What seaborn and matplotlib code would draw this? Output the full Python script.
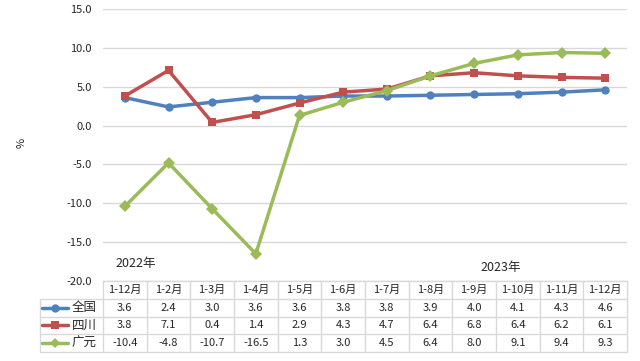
import numpy as np
import pandas as pd
import matplotlib
matplotlib.use("Agg")
import matplotlib.pyplot as plt
import seaborn as sns

# -------------------------------
# Data
# -------------------------------
periods = ["1-12月", "1-2月", "1-3月", "1-4月", "1-5月", "1-6月",
           "1-7月", "1-8月", "1-9月", "1-10月", "1-11月", "1-12月"]
series_names = ["全国", "四川", "广元"]
quanguo = [3.6, 2.4, 3.0, 3.6, 3.6, 3.8, 3.8, 3.9, 4.0, 4.1, 4.3, 4.6]
sichuan = [3.8, 7.1, 0.4, 1.4, 2.9, 4.3, 4.7, 6.4, 6.8, 6.4, 6.2, 6.1]
guangyuan = [-10.4, -4.8, -10.7, -16.5, 1.3, 3.0, 4.5, 6.4, 8.0, 9.1, 9.4, 9.3]
y_ticks = [15, 10, 5, 0, -5, -10, -15, -20]

colors = ["#4F81BD", "#C0504D", "#9BBB59"]
markers = ["o", "s", "D"]

values = [quanguo, sichuan, guangyuan]
rows = []
for name, vals in zip(series_names, values):
    for i, v in enumerate(vals):
        rows.append({"idx": i, "value": v, "series": name})
df = pd.DataFrame(rows)

# -------------------------------
# Figure
# -------------------------------
sns.set_style("white")
plt.rcParams["font.family"] = ["Noto Sans CJK SC", "DejaVu Sans"]

fig = plt.figure(figsize=(6.4, 3.61), dpi=100)
W, H = 640, 361
left, right, top, bottom = 103, 627, 9, 281
ax = fig.add_axes([left / W, 1 - bottom / H, (right - left) / W, (bottom - top) / H])

sns.lineplot(data=df, x="idx", y="value", hue="series", style="series",
             palette=colors, markers=markers, dashes=False, linewidth=2.5,
             markersize=6, markeredgewidth=0, legend=False, ax=ax)

ax.set_xlim(-0.5, 11.5)
ax.set_ylim(-20, 15)
ax.set_yticks(y_ticks)
ax.set_yticklabels([f"{t:.1f}" for t in y_ticks], fontsize=8)
ax.set_xticks([])
ax.set_xlabel("")
ax.set_ylabel("")
ax.grid(axis="y", color="#D9D9D9", linewidth=1)
ax.tick_params(axis="y", length=0, pad=8)
for s in ax.spines.values():
    s.set_visible(False)

fig.text(22 / W, 1 - 143 / H, "%", fontsize=8, rotation=90, ha="center", va="center")
ax.text(0.25, -17.7, "2022年", fontsize=9, ha="center", va="center")
ax.text(8.6, -18.2, "2023年", fontsize=9, ha="center", va="center")

# -------------------------------
# Data table
# -------------------------------
t_left, t_bottom = 40, 352
col_w = (right - left) / 12
lead = (left - t_left) / col_w
axt = fig.add_axes([t_left / W, 1 - t_bottom / H, (right - t_left) / W, (t_bottom - bottom) / H])
axt.set_xlim(-0.5 - lead, 11.5)
axt.set_ylim(4, 0)
axt.axis("off")

gc = "#D9D9D9"
# horizontal lines
axt.plot([-0.5, 11.5], [0, 0], color=gc, lw=1, clip_on=False)
for r in [1, 2, 3, 4]:
    axt.plot([-0.5 - lead, 11.5], [r, r], color=gc, lw=1, clip_on=False)
# vertical lines
for c in range(13):
    axt.plot([c - 0.5, c - 0.5], [0, 4], color=gc, lw=1, clip_on=False)
axt.plot([-0.5 - lead, -0.5 - lead], [1, 4], color=gc, lw=1, clip_on=False)

for i, p in enumerate(periods):
    axt.text(i, 0.5, p, fontsize=8, ha="center", va="center")
for r, (name, vals) in enumerate(zip(series_names, values)):
    y = r + 1.5
    for i, v in enumerate(vals):
        axt.text(i, y, f"{v:.1f}", fontsize=8, ha="center", va="center")
    x0 = -0.5 - lead + 0.05
    axt.plot([x0, x0 + 0.6], [y, y], color=colors[r], lw=2.5, clip_on=False)
    axt.plot([x0 + 0.3], [y], marker=markers[r], color=colors[r],
             markersize=6 if r < 2 else 5.5, markeredgewidth=0, clip_on=False)
    axt.text(x0 + 0.68, y, name, fontsize=9, ha="left", va="center")

fig.savefig("out.png", dpi=100)
